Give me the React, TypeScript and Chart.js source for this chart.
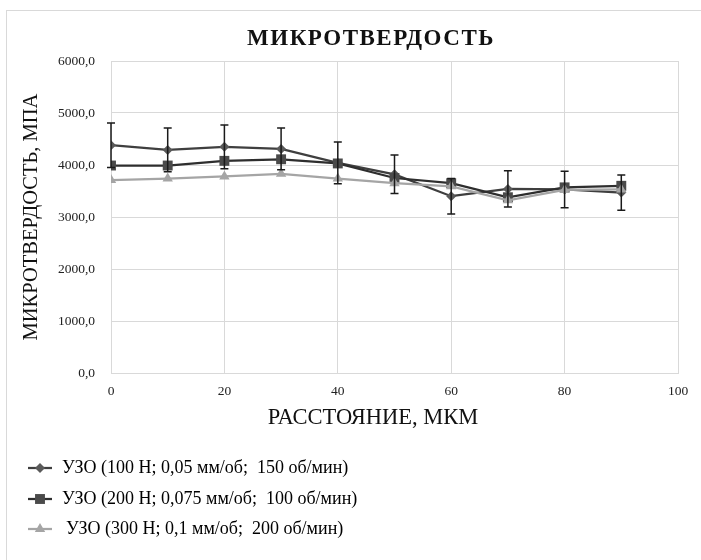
import React, { useEffect, useRef } from "react";
import { Chart, registerables } from "chart.js";

Chart.register(...registerables);

// ---- data ----
const distances = [0, 10, 20, 30, 40, 50, 60, 70, 80, 90];
const series1 = [4380, 4290, 4350, 4310, 4040, 3820, 3400, 3540, 3530, 3470];
const series1Err = [430, 420, 420, 400, 400, 370, 340, 350, 350, 340];
const series2 = [3990, 3990, 4080, 4110, 4030, 3750, 3650, 3380, 3570, 3600];
const series3 = [3710, 3740, 3780, 3830, 3740, 3650, 3590, 3320, 3520, 3530];
const seriesLabels = [
  "УЗО (100 Н; 0,05 мм/об;  150 об/мин)",
  "УЗО (200 Н; 0,075 мм/об;  100 об/мин)",
  "УЗО (300 Н; 0,1 мм/об;  200 об/мин)",
];
const chartTitle = "МИКРОТВЕРДОСТЬ";
const yTitle = "МИКРОТВЕРДОСТЬ, МПА";
const xTitle = "РАССТОЯНИЕ, МКМ";

const FONT = "'Liberation Serif', 'Times New Roman', serif";

const lineColors = ["#3f3f3f", "#2e2e2e", "#a5a5a5"];
const pointColors = ["#5a5a5a", "#4a4a4a", "#a5a5a5"];
const pointStyles = ["rectRot", "rect", "triangle"];
const pointRadii = [5, 7, 6];

const errorBarPlugin = {
  id: "errorBars",
  afterDatasetsDraw(chart: any) {
    const xs = chart.scales.x;
    const ys = chart.scales.y;
    const ctx = chart.ctx;
    ctx.save();
    ctx.strokeStyle = "#1a1a1a";
    ctx.lineWidth = 1.5;
    distances.forEach((d, i) => {
      const x = xs.getPixelForValue(d);
      const yt = ys.getPixelForValue(series1[i] + series1Err[i]);
      const yb = ys.getPixelForValue(series1[i] - series1Err[i]);
      ctx.beginPath();
      ctx.moveTo(x, yt);
      ctx.lineTo(x, yb);
      ctx.moveTo(x - 4, yt);
      ctx.lineTo(x + 4, yt);
      ctx.moveTo(x - 4, yb);
      ctx.lineTo(x + 4, yb);
      ctx.stroke();
    });
    ctx.restore();
  },
};

function drawMarker(ctx: CanvasRenderingContext2D, style: string, x: number, y: number, r: number) {
  ctx.beginPath();
  if (style === "rectRot") {
    ctx.moveTo(x, y - r);
    ctx.lineTo(x + r, y);
    ctx.lineTo(x, y + r);
    ctx.lineTo(x - r, y);
    ctx.closePath();
  } else if (style === "rect") {
    const s = r * Math.SQRT1_2;
    ctx.rect(x - s, y - s, 2 * s, 2 * s);
  } else {
    const h = r * 1.5;
    const w = (r * Math.sqrt(3)) / 2;
    ctx.moveTo(x, y - r);
    ctx.lineTo(x + w, y + h - r);
    ctx.lineTo(x - w, y + h - r);
    ctx.closePath();
  }
  ctx.fill();
}

const titlesPlugin = {
  id: "customTitles",
  afterDraw(chart: any) {
    const ctx = chart.ctx;
    ctx.save();
    ctx.fillStyle = "#111111";
    ctx.textAlign = "center";
    ctx.textBaseline = "middle";
    ctx.font = `bold 23px ${FONT}`;
    (ctx as any).letterSpacing = "1.5px";
    ctx.fillText(chartTitle, 364, 28);
    (ctx as any).letterSpacing = "0px";
    ctx.font = `22.5px ${FONT}`;
    ctx.fillText(xTitle, 366, 407);
    ctx.restore();
  },
};

const legendPlugin = {
  id: "customLegend",
  afterDraw(chart: any) {
    const ctx = chart.ctx;
    ctx.save();
    const rowY = [457, 488, 518];
    seriesLabels.forEach((label, i) => {
      const y = rowY[i];
      ctx.strokeStyle = lineColors[i];
      ctx.lineWidth = 2.25;
      ctx.beginPath();
      ctx.moveTo(21, y);
      ctx.lineTo(45, y);
      ctx.stroke();
      ctx.fillStyle = pointColors[i];
      drawMarker(ctx, pointStyles[i], 33, y, pointRadii[i]);
      ctx.fillStyle = "#000000";
      ctx.font = `18px ${FONT}`;
      ctx.textBaseline = "middle";
      ctx.textAlign = "left";
      ctx.fillText(label, i === 2 ? 59 : 55, y);
    });
    ctx.restore();
  },
};

const fmt = (v: number) => v.toFixed(1).replace(".", ",");

export default function App() {
  const ref = useRef<HTMLCanvasElement | null>(null);
  useEffect(() => {
    document.body.style.margin = "0";
    document.body.style.overflow = "hidden";
    const data = [series1, series2, series3];
    const chart = new Chart(ref.current as HTMLCanvasElement, {
      type: "line",
      data: {
        datasets: data.map((vals, i) => ({
          label: seriesLabels[i],
          data: vals.map((v, j) => ({ x: distances[j], y: v })),
          borderColor: lineColors[i],
          backgroundColor: pointColors[i],
          pointBackgroundColor: pointColors[i],
          pointBorderColor: pointColors[i],
          pointStyle: pointStyles[i] as any,
          pointRadius: pointRadii[i],
          pointBorderWidth: 0,
          borderWidth: 2.25,
          tension: 0,
          order: 2 - i,
        })),
      },
      options: {
        animation: false,
        responsive: false,
        layout: { padding: { left: 0, right: 69, top: 50, bottom: 130 } },
        plugins: {
          legend: { display: false },
          tooltip: { enabled: false },
          title: { display: false },
        },
        scales: {
          x: {
            type: "linear",
            min: 0,
            max: 100,
            afterFit: (s: any) => {
              s.height = 58;
            },
            ticks: {
              stepSize: 20,
              color: "#222222",
              font: { family: FONT, size: 13.5 },
              padding: 10,
            },
            grid: { color: "#d9d9d9", lineWidth: 1, drawTicks: false },
            border: { color: "#d9d9d9" },
            title: { display: false, text: xTitle },
          },
          y: {
            min: 0,
            max: 6000,
            afterFit: (s: any) => {
              s.width = 104;
            },
            ticks: {
              stepSize: 1000,
              color: "#222222",
              font: { family: FONT, size: 13.5 },
              padding: 16,
              callback: (v: any) => fmt(Number(v)),
            },
            grid: { color: "#d9d9d9", lineWidth: 1, drawTicks: false },
            border: { color: "#d9d9d9" },
            title: {
              display: true,
              text: yTitle,
              color: "#111111",
              font: { family: FONT, size: 20.5 },
              padding: { top: 12, bottom: 0 },
            },
          },
        },
      },
      plugins: [errorBarPlugin, titlesPlugin, legendPlugin],
    });
    return () => chart.destroy();
  }, []);
  return (
    <div
      style={{
        position: "absolute",
        left: 6,
        top: 10,
        width: 740,
        height: 550,
        borderLeft: "1px solid #d9d9d9",
        borderTop: "1px solid #d9d9d9",
      }}
    >
      <canvas ref={ref} width={740} height={550} style={{ display: "block" }} />
    </div>
  );
}
